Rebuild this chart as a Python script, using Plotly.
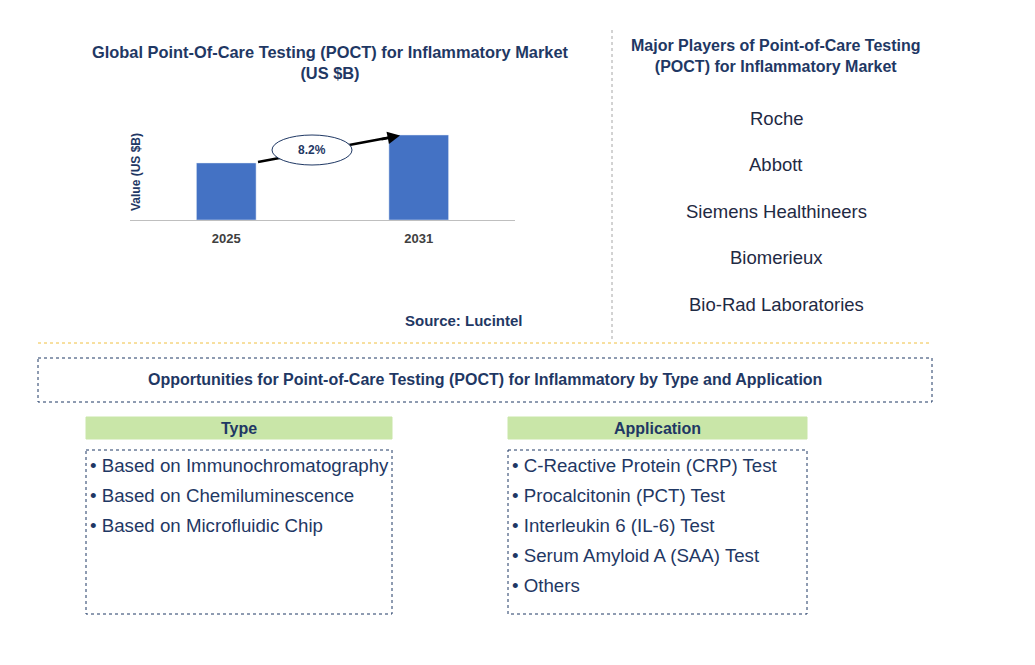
import plotly.graph_objects as go

W, H = 1035, 665
years = ["2025", "2031"]
values = [1.0, 1.49]
cagr = "8.2%"
players = ["Roche", "Abbott", "Siemens Healthineers", "Biomerieux", "Bio-Rad Laboratories"]
types = ["Based on Immunochromatography", "Based on Chemiluminescence", "Based on Microfluidic Chip"]
apps = ["C-Reactive Protein (CRP) Test", "Procalcitonin (PCT) Test", "Interleukin 6 (IL-6) Test",
        "Serum Amyloid A (SAA) Test", "Others"]

navy = "#1f3864"
OFF = 8
def px(x): return (x - OFF) / W
def py(y): return 1 - (y - OFF) / H

fig = go.Figure()
fig.add_trace(go.Bar(x=[0, 1], y=values, width=0.31, marker_color="#4472c4", hoverinfo="skip"))
fig.update_layout(
    width=W, height=H, margin=dict(l=0, r=0, t=0, b=0),
    paper_bgcolor="white", plot_bgcolor="white", showlegend=False,
    font=dict(family="Liberation Sans, Arial", color=navy),
    xaxis=dict(domain=[px(130), px(515)], range=[-0.5, 1.5], tickvals=[0, 1],
               ticktext=[f"<b>{y}</b>" for y in years], ticklabelstandoff=6,
               tickfont=dict(size=13, color="#404040", family="Liberation Sans, Arial"),
               showgrid=False, zeroline=False, showline=True, linecolor="#bfbfbf", ticks=""),
    yaxis=dict(domain=[py(220), py(115)], range=[0, 1.84], showticklabels=False, showgrid=False,
               zeroline=False, showline=False),
)
shapes = []
ann = []
def text(x, y, t, size=14, bold=False, color=navy, xanchor="center", **kw):
    ann.append(dict(x=px(x), y=py(y), xref="paper", yref="paper", text=f"<b>{t}</b>" if bold else t,
                    showarrow=False, xanchor=xanchor, yanchor="middle",
                    font=dict(size=size, color=color), **kw))
def rect(x0, y0, x1, y1, line=None, fill=None, dash="dot"):
    shapes.append(dict(type="rect", xref="paper", yref="paper", x0=px(x0), x1=px(x1), y0=py(y0), y1=py(y1),
                       line=dict(color=line or "rgba(0,0,0,0)", width=1, dash=dash), fillcolor=fill or "rgba(0,0,0,0)"))

text(330, 63, "Global Point-Of-Care Testing (POCT) for Inflammatory Market<br>(US $B)", 16.4, True)
ann.append(dict(x=px(136), y=py(172), xref="paper", yref="paper", text="<b>Value (US $B)</b>", textangle=-90,
                showarrow=False, xanchor="center", yanchor="middle", font=dict(size=12, color=navy)))
shapes.append(dict(type="line", xref="paper", yref="paper", x0=px(258), y0=py(162), x1=px(392), y1=py(137),
                   line=dict(color="black", width=2.5)))
ann.append(dict(x=px(400), y=py(135.5), ax=-20, ay=4, xref="paper", yref="paper",
                text="", showarrow=True, arrowhead=2, arrowsize=1,
                arrowwidth=2.5, arrowcolor="black"))
shapes.append(dict(type="circle", xref="paper", yref="paper", x0=px(272), x1=px(352), y0=py(165), y1=py(135),
                   line=dict(color=navy, width=1), fillcolor="white"))
text(312, 150, f"<b>{cagr}</b>", 12, color=navy)
text(464, 321, "Source: Lucintel", 15, True)

shapes.append(dict(type="line", xref="paper", yref="paper", x0=px(612), x1=px(612), y0=py(30), y1=py(340),
                   line=dict(color="#a6a6a6", width=1, dash="dot")))
text(776, 56, "Major Players of Point-of-Care Testing<br>(POCT) for Inflammatory Market", 16, True)
for i, p in enumerate(players):
    text(776, 118 + i * 46.5, p, 18.5, color="#1f2a44")

shapes.append(dict(type="line", xref="paper", yref="paper", x0=px(38), x1=px(930), y0=py(343), y1=py(343),
                   line=dict(color="#f0c040", width=1, dash="dot")))
rect(38, 358, 932, 402, line=navy)
text(485, 380, "Opportunities for Point-of-Care Testing (POCT) for Inflammatory by Type and Application", 16, True)

green = "#c9e6a8"
rect(86, 417, 392, 439, fill=green, line=green, dash="solid")
text(239, 428, "Type", 16, True)
rect(86, 450, 392, 614, line=navy)
for i, t in enumerate(types):
    text(88, 465 + i * 30, "• " + t, 18.7, xanchor="left")
rect(508, 417, 807, 439, fill=green, line=green, dash="solid")
text(657, 428, "Application", 16, True)
rect(508, 450, 807, 614, line=navy)
for i, t in enumerate(apps):
    text(510, 465 + i * 30, "• " + t, 18.7, xanchor="left")

fig.update_layout(shapes=shapes, annotations=ann)
fig.write_html("out.html")
